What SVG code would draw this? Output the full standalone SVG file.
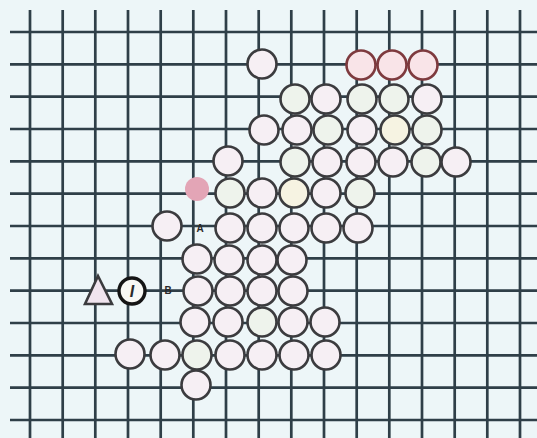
<svg xmlns="http://www.w3.org/2000/svg" width="537" height="438" viewBox="0 0 537 438">
<style>
.g{stroke:#2f3f48;stroke-width:2.7;fill:none}
.s{fill:#f6eff4;stroke:#3b3b3e;stroke-width:2.6}
.sg{fill:#eef3ec;stroke:#3b3b3e;stroke-width:2.6}
.sy{fill:#f6f3e2;stroke:#3b3b3e;stroke-width:2.6}
.r{fill:#f9e4e8;stroke:#7e3a3e;stroke-width:2.6}
.lbl{font-family:"Liberation Sans",Arial,sans-serif;font-weight:bold;fill:#2a2a2a}
</style>
<rect width="537" height="438" fill="#edf6f8"/>
<g id="grid">
<g class="g">
<path d="M30 10V438M62.7 10V438M95.3 10V438M128 10V438M160.7 10V438M193.3 10V438M226 10V438M258.7 10V438M291.3 10V438M324 10V438M356.7 10V438M389.3 10V438M422 10V438M454.7 10V438M487.3 10V438M520 10V438"/>
<path d="M10 32H537M10 64.3H537M10 96.7H537M10 129H537M10 161.3H537M10 193.7H537M10 226H537M10 258.3H537M10 290.7H537M10 323H537M10 355.3H537M10 387.7H537M10 420H537"/>
</g>
</g>
<g id="stones">
<circle class="s" cx="262" cy="64" r="14.5"/>
<circle class="r" cx="361" cy="65" r="14.5"/>
<circle class="r" cx="392" cy="65" r="14.5"/>
<circle class="r" cx="423" cy="65" r="14.5"/>

<circle class="sg" cx="295" cy="99" r="14.5"/>
<circle class="s" cx="326" cy="99" r="14.5"/>
<circle class="sg" cx="362" cy="99" r="14.5"/>
<circle class="sg" cx="394" cy="99" r="14.5"/>
<circle class="s" cx="427" cy="99" r="14.5"/>

<circle class="s" cx="264" cy="130" r="14.5"/>
<circle class="s" cx="297" cy="130" r="14.5"/>
<circle class="sg" cx="328" cy="130" r="14.5"/>
<circle class="s" cx="362" cy="130" r="14.5"/>
<circle class="sy" cx="395" cy="130" r="14.5"/>
<circle class="sg" cx="427" cy="130" r="14.5"/>

<circle class="s" cx="228" cy="161" r="14.5"/>
<circle class="sg" cx="295" cy="162" r="14.5"/>
<circle class="s" cx="327" cy="162" r="14.5"/>
<circle class="s" cx="361" cy="162" r="14.5"/>
<circle class="s" cx="393" cy="162" r="14.5"/>
<circle class="sg" cx="426" cy="162" r="14.5"/>
<circle class="s" cx="456" cy="162" r="14.5"/>

<circle cx="197" cy="189" r="12" fill="#e3a5b6"/>
<circle class="sg" cx="230" cy="193" r="14.5"/>
<circle class="s" cx="262" cy="193" r="14.5"/>
<circle class="sy" cx="294" cy="193" r="14.5"/>
<circle class="s" cx="326" cy="193" r="14.5"/>
<circle class="sg" cx="360" cy="193" r="14.5"/>

<circle class="s" cx="167" cy="226" r="14.5"/>
<circle class="s" cx="230" cy="228" r="14.5"/>
<circle class="s" cx="262" cy="228" r="14.5"/>
<circle class="s" cx="294" cy="228" r="14.5"/>
<circle class="s" cx="326" cy="228" r="14.5"/>
<circle class="s" cx="358" cy="228" r="14.5"/>

<circle class="s" cx="197" cy="259" r="14.5"/>
<circle class="s" cx="229" cy="260" r="14.5"/>
<circle class="s" cx="262" cy="260" r="14.5"/>
<circle class="s" cx="292" cy="260" r="14.5"/>

<circle class="s" cx="198" cy="291" r="14.5"/>
<circle class="s" cx="230" cy="291" r="14.5"/>
<circle class="s" cx="262" cy="291" r="14.5"/>
<circle class="s" cx="293" cy="291" r="14.5"/>

<circle class="s" cx="195" cy="322" r="14.5"/>
<circle class="s" cx="228" cy="322" r="14.5"/>
<circle class="sg" cx="262" cy="322" r="14.5"/>
<circle class="s" cx="293" cy="322" r="14.5"/>
<circle class="s" cx="325" cy="322" r="14.5"/>

<circle class="s" cx="130" cy="354" r="14.5"/>
<circle class="s" cx="165" cy="355" r="14.5"/>
<circle class="sg" cx="197" cy="355" r="14.5"/>
<circle class="s" cx="230" cy="355" r="14.5"/>
<circle class="s" cx="262" cy="355" r="14.5"/>
<circle class="s" cx="294" cy="355" r="14.5"/>
<circle class="s" cx="326" cy="355" r="14.5"/>

<circle class="s" cx="196" cy="385" r="14.5"/>
</g>
<g id="marks">
<polygon points="98,276 85,304 112,304" fill="#f0e4ee" stroke="#3b3b3e" stroke-width="2.6"/>
<circle cx="132" cy="291" r="13" fill="#f8f8f4" stroke="#151515" stroke-width="3.4"/>
<text class="lbl" x="132" y="297" font-size="16" font-style="italic" text-anchor="middle">I</text>
<text class="lbl" x="200" y="232" font-size="10" text-anchor="middle">A</text>
<text class="lbl" x="168" y="294" font-size="10" text-anchor="middle">B</text>
</g>
</svg>
